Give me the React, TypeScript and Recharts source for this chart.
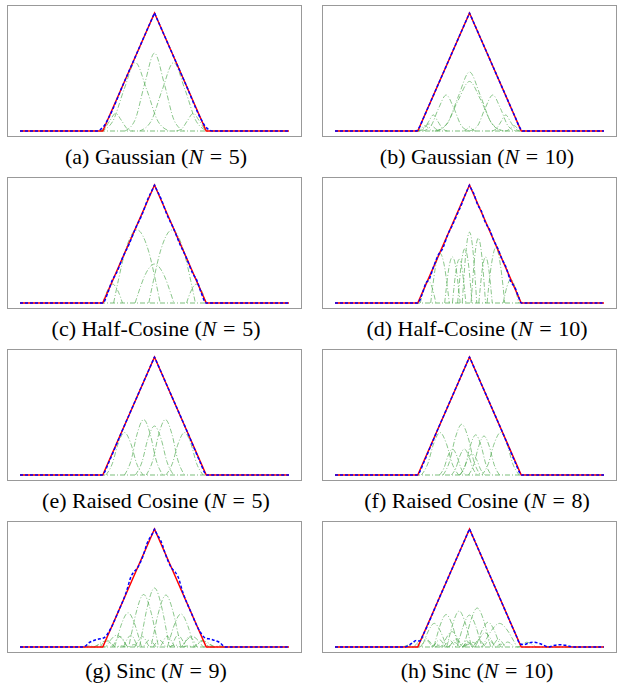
import React from 'react';
import { LineChart, Line, XAxis, YAxis } from 'recharts';

type Pt = [number, number];

const X_MIN = -2.6;
const X_MAX = 2.6;

// target shape (red) shared by every panel
const target: Pt[] = [[-2.6, 0], [-1, 0], [0, 1], [1, 0], [2.6, 0]];
const floor: Pt[] = [[-2.6, 0], [2.6, 0]];

// (a) Gaussian N=5
const gaussian5Parts: Pt[][] = [
  [[-0.57, 0], [-0.38, 0.09], [-0.19, 0.4], [0, 0.66], [0.19, 0.4], [0.38, 0.09], [0.57, 0]],
  [[-1.03, 0], [-0.81, 0.08], [-0.59, 0.35], [-0.37, 0.58], [-0.15, 0.35], [0.07, 0.08], [0.29, 0]],
  [[-0.29, 0], [-0.07, 0.08], [0.15, 0.35], [0.37, 0.58], [0.59, 0.35], [0.81, 0.08], [1.03, 0]],
  [[-1.08, 0], [-0.97, 0.02], [-0.86, 0.09], [-0.75, 0.15], [-0.64, 0.09], [-0.53, 0.02], [-0.42, 0]],
  [[0.42, 0], [0.53, 0.02], [0.64, 0.09], [0.75, 0.15], [0.86, 0.09], [0.97, 0.02], [1.08, 0]],
];
const gaussian5Approx: Pt[] = [
  [-2.6, 0], [-1.12, 0], [-1.05, 0.012], [-0.98, 0.04], [-0.9, 0.1], [-0.6, 0.4], [-0.3, 0.7],
  [-0.02, 0.98], [0, 1], [0.02, 0.98], [0.3, 0.7], [0.6, 0.4], [0.9, 0.1], [0.98, 0.04],
  [1.05, 0.012], [1.12, 0], [2.6, 0],
];

// (b) Gaussian N=10
const gaussian10Parts: Pt[][] = [
  [[-0.63, 0], [-0.42, 0.07], [-0.21, 0.3], [0, 0.5], [0.21, 0.3], [0.42, 0.07], [0.63, 0]],
  [[-0.66, 0], [-0.44, 0.06], [-0.22, 0.26], [0, 0.42], [0.22, 0.26], [0.44, 0.06], [0.66, 0]],
  [[-0.9, 0], [-0.75, 0.04], [-0.6, 0.19], [-0.45, 0.305], [-0.3, 0.19], [-0.15, 0.04], [0, 0]],
  [[0, 0], [0.15, 0.04], [0.3, 0.19], [0.45, 0.305], [0.6, 0.19], [0.75, 0.04], [0.9, 0]],
  [[-0.97, 0], [-0.88, 0.02], [-0.79, 0.08], [-0.7, 0.136], [-0.61, 0.08], [-0.52, 0.02], [-0.43, 0]],
  [[0.43, 0], [0.52, 0.02], [0.61, 0.08], [0.7, 0.136], [0.79, 0.08], [0.88, 0.02], [0.97, 0]],
  [[-1.04, 0], [-0.98, 0.006], [-0.92, 0.027], [-0.86, 0.045], [-0.8, 0.027], [-0.74, 0.006], [-0.68, 0]],
  [[0.68, 0], [0.74, 0.006], [0.8, 0.027], [0.86, 0.045], [0.92, 0.027], [0.98, 0.006], [1.04, 0]],
  [[-0.12, 0], [-0.08, 0.005], [-0.04, 0.021], [0, 0.035], [0.04, 0.021], [0.08, 0.005], [0.12, 0]],
  [[-1.02, 0], [-0.94, 0.008], [-0.86, 0.036], [-0.78, 0.06], [-0.7, 0.036], [-0.62, 0.008], [-0.54, 0]],
];
const gaussian10Approx: Pt[] = [
  [-2.6, 0], [-1.03, 0], [-0.97, 0.03], [-0.9, 0.1], [-0.6, 0.4], [-0.3, 0.7], [-0.02, 0.98],
  [0, 1], [0.02, 0.98], [0.3, 0.7], [0.6, 0.4], [0.9, 0.1], [0.97, 0.03], [1.03, 0], [2.6, 0],
];

// (c) Half-Cosine N=5
const halfCos5Parts: Pt[][] = [
  [[-1.0, 0], [-0.962, 0.05], [-0.905, 0.11], [-0.81, 0.16], [-0.715, 0.11], [-0.658, 0.05], [-0.62, 0]],
  [[-0.79, 0], [-0.7, 0.19], [-0.565, 0.44], [-0.34, 0.62], [-0.115, 0.44], [0.02, 0.19], [0.11, 0]],
  [[-0.375, 0], [-0.3, 0.1], [-0.19, 0.23], [0, 0.33], [0.19, 0.23], [0.3, 0.1], [0.375, 0]],
  [[-0.11, 0], [-0.02, 0.19], [0.115, 0.44], [0.34, 0.62], [0.565, 0.44], [0.7, 0.19], [0.79, 0]],
  [[0.62, 0], [0.658, 0.05], [0.715, 0.11], [0.81, 0.16], [0.905, 0.11], [0.962, 0.05], [1.0, 0]],
];
const halfCos5Approx: Pt[] = [
  [-2.6, 0], [-1, 0], [-0.9, 0.09], [-0.82, 0.19], [-0.74, 0.25], [-0.6, 0.4], [-0.5, 0.49],
  [-0.36, 0.64], [-0.25, 0.74], [-0.12, 0.89], [-0.02, 0.98], [0, 1], [0.02, 0.98], [0.12, 0.89],
  [0.25, 0.74], [0.36, 0.64], [0.5, 0.49], [0.6, 0.4], [0.74, 0.25], [0.82, 0.19], [0.9, 0.09],
  [1, 0], [2.6, 0],
];

// (d) Half-Cosine N=10
const halfCos10Parts: Pt[][] = [
  [[-0.95, 0], [-0.92, 0.06], [-0.875, 0.135], [-0.8, 0.19], [-0.725, 0.135], [-0.68, 0.06], [-0.65, 0]],
  [[-0.75, 0], [-0.714, 0.13], [-0.66, 0.3], [-0.57, 0.42], [-0.48, 0.3], [-0.426, 0.13], [-0.39, 0]],
  [[-0.48, 0], [-0.45, 0.12], [-0.405, 0.28], [-0.33, 0.39], [-0.255, 0.28], [-0.21, 0.12], [-0.18, 0]],
  [[-0.33, 0], [-0.304, 0.115], [-0.265, 0.26], [-0.2, 0.37], [-0.135, 0.26], [-0.096, 0.115], [-0.07, 0]],
  [[-0.23, 0], [-0.202, 0.14], [-0.16, 0.33], [-0.09, 0.46], [-0.02, 0.33], [0.022, 0.14], [0.05, 0]],
  [[-0.14, 0], [-0.112, 0.19], [-0.07, 0.43], [0, 0.6], [0.07, 0.43], [0.112, 0.19], [0.14, 0]],
  [[0.03, 0], [0.058, 0.17], [0.1, 0.39], [0.17, 0.55], [0.24, 0.39], [0.282, 0.17], [0.31, 0]],
  [[0.18, 0], [0.206, 0.12], [0.245, 0.28], [0.31, 0.39], [0.375, 0.28], [0.414, 0.12], [0.44, 0]],
  [[0.34, 0], [0.374, 0.15], [0.425, 0.33], [0.51, 0.47], [0.595, 0.33], [0.646, 0.15], [0.68, 0]],
  [[0.65, 0], [0.68, 0.06], [0.725, 0.14], [0.8, 0.2], [0.875, 0.14], [0.92, 0.06], [0.95, 0]],
];
const halfCos10Approx: Pt[] = [
  [-2.6, 0], [-1, 0], [-0.92, 0.07], [-0.84, 0.17], [-0.78, 0.2], [-0.7, 0.3], [-0.6, 0.41],
  [-0.52, 0.46], [-0.42, 0.58], [-0.33, 0.66], [-0.25, 0.74], [-0.15, 0.84], [-0.08, 0.92],
  [-0.02, 0.98], [0, 1], [0.02, 0.98], [0.08, 0.93], [0.16, 0.83], [0.22, 0.79], [0.3, 0.69],
  [0.4, 0.61], [0.47, 0.53], [0.55, 0.46], [0.63, 0.37], [0.7, 0.31], [0.8, 0.18], [0.88, 0.13],
  [0.95, 0.05], [1, 0], [2.6, 0],
];

// (e) Raised Cosine N=5
const raisedCos5Parts: Pt[][] = [
  [[-0.94, 0], [-0.814, 0.098], [-0.706, 0.262], [-0.58, 0.36], [-0.454, 0.262], [-0.346, 0.098], [-0.22, 0]],
  [[-0.58, 0], [-0.45, 0.128], [-0.34, 0.342], [-0.21, 0.47], [-0.08, 0.342], [0.03, 0.128], [0.16, 0]],
  [[-0.37, 0], [-0.24, 0.113], [-0.13, 0.302], [0, 0.415], [0.13, 0.302], [0.24, 0.113], [0.37, 0]],
  [[-0.16, 0], [-0.03, 0.128], [0.08, 0.342], [0.21, 0.47], [0.34, 0.342], [0.45, 0.128], [0.58, 0]],
  [[0.22, 0], [0.346, 0.098], [0.454, 0.262], [0.58, 0.36], [0.706, 0.262], [0.814, 0.098], [0.94, 0]],
];
const raisedCos5Approx: Pt[] = [
  [-2.6, 0], [-1.02, 0], [-0.97, 0.02], [-0.9, 0.09], [-0.6, 0.4], [-0.3, 0.7], [-0.02, 0.98],
  [0, 1], [0.02, 0.98], [0.3, 0.7], [0.6, 0.4], [0.9, 0.09], [0.97, 0.02], [1.02, 0], [2.6, 0],
];

// (f) Raised Cosine N=8
const raisedCos8Parts: Pt[][] = [
  [[-0.93, 0], [-0.804, 0.098], [-0.696, 0.262], [-0.57, 0.36], [-0.444, 0.262], [-0.336, 0.098], [-0.21, 0]],
  [[-0.51, 0], [-0.384, 0.117], [-0.276, 0.313], [-0.15, 0.43], [-0.024, 0.313], [0.084, 0.117], [0.21, 0]],
  [[-0.18, 0], [-0.075, 0.093], [0.015, 0.247], [0.12, 0.34], [0.225, 0.247], [0.315, 0.093], [0.42, 0]],
  [[-0.02, 0], [0.085, 0.09], [0.175, 0.24], [0.28, 0.33], [0.385, 0.24], [0.475, 0.09], [0.58, 0]],
  [[0.24, 0], [0.366, 0.098], [0.474, 0.262], [0.6, 0.36], [0.726, 0.262], [0.834, 0.098], [0.96, 0]],
  [[-0.58, 0], [-0.4925, 0.06], [-0.4175, 0.16], [-0.33, 0.22], [-0.2425, 0.16], [-0.1675, 0.06], [-0.08, 0]],
  [[-0.35, 0], [-0.2625, 0.06], [-0.1875, 0.16], [-0.1, 0.22], [-0.0125, 0.16], [0.0625, 0.06], [0.15, 0]],
  [[-0.2, 0], [-0.1125, 0.049], [-0.0375, 0.131], [0.05, 0.18], [0.1375, 0.131], [0.2125, 0.049], [0.3, 0]],
];
const raisedCos8Approx: Pt[] = [
  [-2.6, 0], [-1.02, 0], [-0.97, 0.02], [-0.9, 0.09], [-0.6, 0.4], [-0.3, 0.7], [-0.02, 0.98],
  [0, 1], [0.02, 0.98], [0.3, 0.7], [0.6, 0.4], [0.9, 0.09], [0.97, 0.02], [1.02, 0], [2.6, 0],
];

// (g) Sinc N=9
const sinc9Parts: Pt[][] = [
  [[-0.6, 0], [-0.45, 0.1], [-0.3, 0], [-0.24, 0.117], [-0.15, 0.318], [0, 0.5], [0.15, 0.318], [0.24, 0.117], [0.3, 0], [0.45, 0.1], [0.6, 0]],
  [[-0.81, 0], [-0.66, 0.089], [-0.51, 0], [-0.45, 0.104], [-0.36, 0.283], [-0.21, 0.445], [-0.06, 0.283], [0.03, 0.104], [0.09, 0], [0.24, 0.089], [0.39, 0]],
  [[-0.38, 0], [-0.23, 0.088], [-0.08, 0], [-0.02, 0.103], [0.07, 0.28], [0.22, 0.44], [0.37, 0.28], [0.46, 0.103], [0.52, 0], [0.67, 0.088], [0.82, 0]],
  [[-1.05, 0], [-0.915, 0.058], [-0.78, 0], [-0.726, 0.068], [-0.645, 0.185], [-0.51, 0.29], [-0.375, 0.185], [-0.294, 0.068], [-0.24, 0], [-0.105, 0.058], [0.03, 0]],
  [[-0.03, 0], [0.105, 0.056], [0.24, 0], [0.294, 0.066], [0.375, 0.178], [0.51, 0.28], [0.645, 0.178], [0.726, 0.066], [0.78, 0], [0.915, 0.056], [1.05, 0]],
  [[-1.17, 0], [-1.06, 0.02], [-0.95, 0], [-0.906, 0.023], [-0.84, 0.064], [-0.73, 0.1], [-0.62, 0.064], [-0.554, 0.023], [-0.51, 0], [-0.4, 0.02], [-0.29, 0]],
  [[0.29, 0], [0.4, 0.018], [0.51, 0], [0.554, 0.021], [0.62, 0.057], [0.73, 0.09], [0.84, 0.057], [0.906, 0.021], [0.95, 0], [1.06, 0.018], [1.17, 0]],
  [[-1.35, 0], [-1.25, 0.01], [-1.15, 0], [-1.11, 0.012], [-1.05, 0.032], [-0.95, 0.05], [-0.85, 0.032], [-0.79, 0.012], [-0.75, 0], [-0.65, 0.01], [-0.55, 0]],
  [[0.55, 0], [0.65, 0.01], [0.75, 0], [0.79, 0.012], [0.85, 0.032], [0.95, 0.05], [1.05, 0.032], [1.11, 0.012], [1.15, 0], [1.25, 0.01], [1.35, 0]],
];
const sinc9Approx: Pt[] = [
  [-2.6, 0], [-1.38, 0], [-1.25, 0.04], [-1.1, 0.065], [-0.97, 0.08], [-0.88, 0.13], [-0.7, 0.3],
  [-0.55, 0.46], [-0.45, 0.6], [-0.4, 0.635], [-0.33, 0.67], [-0.2, 0.8], [-0.15, 0.87],
  [-0.02, 0.98], [0, 1], [0.02, 0.98], [0.15, 0.87], [0.2, 0.8], [0.33, 0.67], [0.4, 0.635],
  [0.45, 0.6], [0.55, 0.46], [0.7, 0.3], [0.88, 0.13], [0.97, 0.08], [1.1, 0.065], [1.25, 0.04],
  [1.38, 0], [2.6, 0],
];

// (h) Sinc N=10
const sinc10Parts: Pt[][] = [
  [[-1.18, 0], [-1.055, 0.04], [-0.93, 0], [-0.88, 0.047], [-0.805, 0.127], [-0.68, 0.2], [-0.555, 0.127], [-0.48, 0.047], [-0.43, 0], [-0.305, 0.04], [-0.18, 0]],
  [[-0.95, 0], [-0.825, 0.055], [-0.7, 0], [-0.65, 0.064], [-0.575, 0.175], [-0.45, 0.275], [-0.325, 0.175], [-0.25, 0.064], [-0.2, 0], [-0.075, 0.055], [0.05, 0]],
  [[-0.7, 0], [-0.575, 0.061], [-0.45, 0], [-0.4, 0.071], [-0.325, 0.194], [-0.2, 0.305], [-0.075, 0.194], [0, 0.071], [0.05, 0], [0.175, 0.061], [0.3, 0]],
  [[-0.5, 0], [-0.375, 0.054], [-0.25, 0], [-0.2, 0.063], [-0.125, 0.172], [0, 0.27], [0.125, 0.172], [0.2, 0.063], [0.25, 0], [0.375, 0.054], [0.5, 0]],
  [[-0.39, 0], [-0.255, 0.066], [-0.12, 0], [-0.066, 0.077], [0.015, 0.21], [0.15, 0.33], [0.285, 0.21], [0.366, 0.077], [0.42, 0], [0.555, 0.066], [0.69, 0]],
  [[-0.14, 0], [-0.015, 0.042], [0.11, 0], [0.16, 0.049], [0.235, 0.134], [0.36, 0.21], [0.485, 0.134], [0.56, 0.049], [0.61, 0], [0.735, 0.042], [0.86, 0]],
  [[-0.12, 0], [0.055, 0.04], [0.23, 0], [0.3, 0.047], [0.405, 0.127], [0.58, 0.2], [0.755, 0.127], [0.86, 0.047], [0.93, 0], [1.105, 0.04], [1.28, 0]],
  [[-0.74, 0], [-0.64, 0.026], [-0.54, 0], [-0.5, 0.03], [-0.44, 0.083], [-0.34, 0.13], [-0.24, 0.083], [-0.18, 0.03], [-0.14, 0], [-0.04, 0.026], [0.06, 0]],
  [[-0.1, 0], [0, 0.024], [0.1, 0], [0.14, 0.028], [0.2, 0.076], [0.3, 0.12], [0.4, 0.076], [0.46, 0.028], [0.5, 0], [0.6, 0.024], [0.7, 0]],
  [[-1.28, 0], [-1.18, 0.016], [-1.08, 0], [-1.04, 0.019], [-0.98, 0.051], [-0.88, 0.08], [-0.78, 0.051], [-0.72, 0.019], [-0.68, 0], [-0.58, 0.016], [-0.48, 0]],
];
const sinc10Approx: Pt[] = [
  [-2.6, 0], [-1.25, 0], [-1.12, 0.03], [-1.03, 0.055], [-0.96, 0.05], [-0.9, 0.1], [-0.6, 0.4],
  [-0.3, 0.7], [-0.02, 0.98], [0, 1], [0.02, 0.98], [0.3, 0.7], [0.6, 0.4], [0.9, 0.1],
  [0.98, 0.025], [1.05, 0.02], [1.15, 0.035], [1.25, 0.04], [1.38, 0.025], [1.53, 0],
  [1.65, 0.015], [1.75, 0.02], [1.88, 0.012], [2.0, 0], [2.6, 0],
];

const panelTags = ['a', 'b', 'c', 'd', 'e', 'f', 'g', 'h'];
const panelNames = ['Gaussian', 'Gaussian', 'Half-Cosine', 'Half-Cosine', 'Raised Cosine', 'Raised Cosine', 'Sinc', 'Sinc'];
const panelN = [5, 10, 5, 10, 5, 8, 9, 10];
const panelParts = [gaussian5Parts, gaussian10Parts, halfCos5Parts, halfCos10Parts, raisedCos5Parts, raisedCos8Parts, sinc9Parts, sinc10Parts];
const panelApprox = [gaussian5Approx, gaussian10Approx, halfCos5Approx, halfCos10Approx, raisedCos5Approx, raisedCos8Approx, sinc9Approx, sinc10Approx];

const COL_LEFT = [7, 322];
const ROW_TOP = [5, 177, 349, 521];
const CAPTION_TOP = [147, 319, 491, 661];
const CAPTION_CX = [156, 477];
const BOX_W = 295;
const BOX_H = 132;

const toPts = (arr: Pt[]) => arr.map(([x, y]) => ({ x, y }));

function Panel({ i }: { i: number }) {
  const col = i % 2;
  const row = Math.floor(i / 2);
  const left = COL_LEFT[col];
  const top = ROW_TOP[row];
  const cx = CAPTION_CX[col];
  return (
    <>
      <div
        style={{
          position: 'absolute',
          left,
          top,
          width: BOX_W,
          height: BOX_H,
          border: '1px solid #999',
          boxSizing: 'border-box',
        }}
      />
      <div style={{ position: 'absolute', left, top }}>
        <LineChart width={BOX_W} height={BOX_H} margin={{ top: 8, right: 13, bottom: 6, left: 13 }}>
          <XAxis type="number" dataKey="x" domain={[X_MIN, X_MAX]} hide />
          <YAxis type="number" domain={[0, 1]} hide />
          <Line
            data={toPts(floor)}
            dataKey="y"
            type="linear"
            stroke="#5aae5a"
            strokeOpacity={0.8}
            strokeWidth={1}
            strokeDasharray="5 2 1 2"
            dot={false}
            activeDot={false}
            isAnimationActive={false}
          />
          {panelParts[i].map((part, k) => (
            <Line
              key={`part-${k}`}
              data={toPts(part)}
              dataKey="y"
              type="monotone"
              stroke="#5aae5a"
              strokeOpacity={0.7}
              strokeWidth={1}
              strokeDasharray="5 2 1 2"
              dot={false}
              activeDot={false}
              isAnimationActive={false}
            />
          ))}
          <Line
            data={toPts(target)}
            dataKey="y"
            type="linear"
            stroke="#ff0000"
            strokeWidth={1.5}
            dot={false}
            activeDot={false}
            isAnimationActive={false}
          />
          <Line
            data={toPts(panelApprox[i])}
            dataKey="y"
            type="monotone"
            stroke="#0000ff"
            strokeWidth={1.5}
            strokeDasharray="3 2"
            dot={false}
            activeDot={false}
            isAnimationActive={false}
          />
        </LineChart>
      </div>
      <div
        style={{
          position: 'absolute',
          left: cx - 150,
          top: CAPTION_TOP[row],
          width: 300,
          height: 20,
          textAlign: 'center',
          fontFamily: '"Liberation Serif", "Times New Roman", serif',
          fontSize: 22,
          lineHeight: '20px',
          whiteSpace: 'nowrap',
          color: '#000',
        }}
      >
        ({panelTags[i]}) {panelNames[i]} (<i>N</i>
        <span style={{ margin: '0 0.3em' }}>=</span>
        {panelN[i]})
      </div>
    </>
  );
}

export default function App() {
  return (
    <div style={{ position: 'absolute', left: 0, top: 0, width: 618, height: 683, background: '#fff', overflow: 'hidden' }}>
      {panelTags.map((_, i) => (
        <Panel key={i} i={i} />
      ))}
    </div>
  );
}
